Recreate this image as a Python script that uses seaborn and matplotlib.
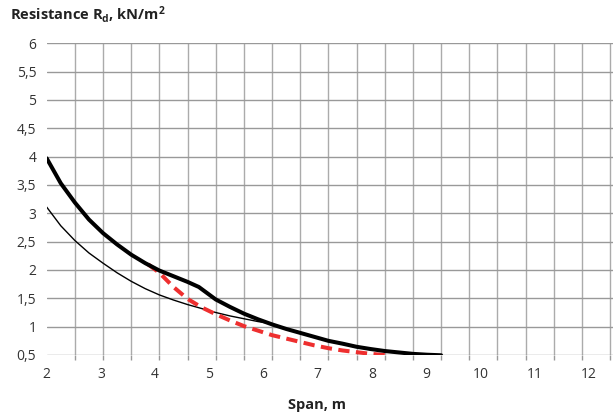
import numpy as np
import pandas as pd
import matplotlib
matplotlib.use("Agg")
import matplotlib.pyplot as plt
import seaborn as sns

# Data (span in m, resistance in kN/m2)
thick_x = [2.0, 2.25, 2.5, 2.75, 3.0, 3.25, 3.5, 3.75, 4.0, 4.25, 4.5, 4.7, 4.85, 5.0, 5.25,
           5.5, 5.75, 6.0, 6.25, 6.5, 6.75, 7.0, 7.25, 7.5, 7.75, 8.0, 8.25, 8.5, 8.75, 9.0]
thick_y = [3.97, 3.53, 3.19, 2.89, 2.65, 2.45, 2.27, 2.12, 1.99, 1.89, 1.79, 1.70, 1.59, 1.48, 1.35,
           1.23, 1.13, 1.04, 0.96, 0.89, 0.82, 0.75, 0.70, 0.645, 0.605, 0.57, 0.545, 0.52, 0.505, 0.495]

thin_x = [2.0, 2.25, 2.5, 2.75, 3.0, 3.25, 3.5, 3.75, 4.0, 4.25, 4.5, 4.75, 5.0, 5.25, 5.5, 5.75, 5.95]
thin_y = [3.11, 2.78, 2.52, 2.30, 2.12, 1.95, 1.80, 1.67, 1.56, 1.47, 1.39, 1.32, 1.25, 1.19, 1.14, 1.09, 1.06]

red_x = [3.8, 4.0, 4.25, 4.5, 4.75, 5.0, 5.25, 5.5, 5.75, 6.0, 6.25, 6.5, 6.75, 7.0, 7.25, 7.5, 7.75, 8.0]
red_y = [2.10, 1.95, 1.70, 1.49, 1.34, 1.22, 1.11, 1.01, 0.93, 0.85, 0.79, 0.73, 0.67, 0.62, 0.58, 0.55, 0.52, 0.50]

x_labels = [str(n) for n in range(2, 13)]
y_ticks = [0.5, 1, 1.5, 2, 2.5, 3, 3.5, 4, 4.5, 5, 5.5, 6]
y_labels = ["0,5", "1", "1,5", "2", "2,5", "3", "3,5", "4", "4,5", "5", "5,5", "6"]

sns.set_style("white")
plt.rcParams['font.family'] = ['Open Sans', 'DejaVu Sans']
plt.rcParams['mathtext.fontset'] = 'custom'
plt.rcParams['mathtext.rm'] = 'Open Sans:bold'
plt.rcParams['mathtext.it'] = 'Open Sans:bold'
plt.rcParams['mathtext.bf'] = 'Open Sans:bold'

fig = plt.figure(figsize=(6.13, 4.18), dpi=100)
ax = fig.add_axes([46.7 / 613, 63 / 418, 1 - 46.7 / 613, (355 - 43.3) / 418])

thin = pd.DataFrame({"x": thin_x, "y": thin_y})
thick = pd.DataFrame({"x": thick_x, "y": thick_y})
red = pd.DataFrame({"x": red_x, "y": red_y})

sns.lineplot(data=thin, x="x", y="y", ax=ax, color="black", linewidth=1.0, estimator=None, zorder=3)
sns.lineplot(data=red, x="x", y="y", ax=ax, color="#ee2f2f", linewidth=2.9, estimator=None, zorder=4)
ax.lines[-1].set_dashes([2.8, 1.6])
sns.lineplot(data=thick, x="x", y="y", ax=ax, color="black", linewidth=2.9, estimator=None, zorder=5)
for ln in ax.lines:
    ln.set_solid_joinstyle("round")
    ln.set_dash_joinstyle("round")

ax.set_xlim(2, 12.05)
ax.set_ylim(0.5, 6)

# grid every 0.5 along x (minor ticks), labels drift like the original
ax.set_xticks(np.arange(2, 12.01, 0.5), minor=True)
label_pos = [2 + (n - 2) * 0.962 for n in range(2, 13)]
ax.set_xticks(label_pos)
ax.set_xticklabels(x_labels)
ax.set_yticks(y_ticks)
ax.set_yticklabels(y_labels)

ax.grid(False)
ax.grid(True, which="minor", axis="x", color="#ababab", linewidth=1.0)
ax.grid(True, which="major", axis="y", color="#999999", linewidth=1.0)
ax.set_axisbelow(True)

ax.tick_params(axis="x", which="major", length=0, pad=9, labelsize=10, labelcolor="#333333")
ax.tick_params(axis="x", which="minor", length=3.5, width=1, color="#999999", direction="out", bottom=True)
ax.tick_params(axis="y", which="major", length=3.5, width=1, color="#999999", pad=4,
               labelsize=10, labelcolor="#333333")

for s in ax.spines.values():
    s.set_visible(False)

ax.set_xlabel("")
ax.set_ylabel("")

fig.text(10 / 613, 1 - 14 / 418, r"Resistance R$_\mathrm{d}$, kN/m$^2$", fontsize=10.5,
         fontweight="bold", ha="left", va="center", color="#222222")
fig.text(317 / 613, 1 - 405 / 418, "Span, m", fontsize=10.5, fontweight="bold",
         ha="center", va="center", color="#222222")

fig.savefig("out.png", dpi=100)
